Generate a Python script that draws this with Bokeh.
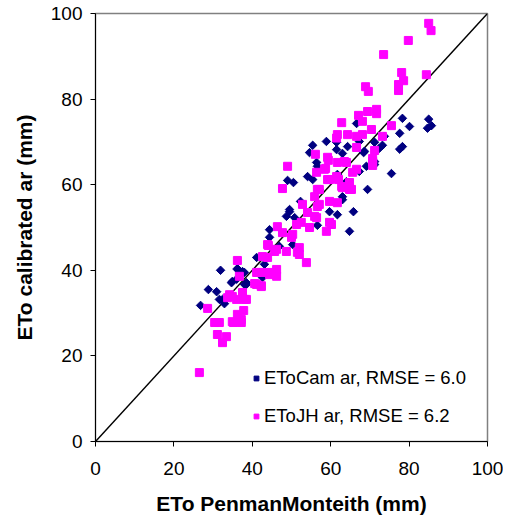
import math
from bokeh.plotting import figure
from bokeh.models import Legend, LegendItem, FixedTicker, Range1d
from bokeh.embed import file_html
from bokeh.resources import INLINE

# EToCam ar (navy diamonds)
cam_x = [85.0, 85.7, 84.7, 80.1, 78.3, 77.6, 78.3, 77.6, 66.6, 58.9,
         55.4, 54.6, 63.0, 61.5, 64.3, 71.2, 73.2, 73.7, 68.4, 72.4,
         67.3, 68.6, 71.2, 56.4, 55.4, 57.1, 61.7, 64.0, 67.3, 63.0,
         75.5, 69.4, 49.0, 50.5, 54.1, 56.6, 63.0, 52.3, 49.5, 48.7,
         59.7, 61.7, 65.8, 64.8, 56.6, 44.4, 44.4, 46.9, 50.3, 41.1,
         43.1, 31.9, 36.2, 37.5, 36.0, 38.0, 28.8, 30.9, 34.7, 42.6,
         61.5, 69.1, 71.2, 26.8, 31.6, 32.9, 38.5, 38.0, 38.5, 32.4,
         42.3, 50.8, 34.9, 36.2, 49.5]
cam_y = [75.3, 73.8, 73.2, 73.6, 75.5, 72.0, 68.9, 68.3, 74.3, 70.1,
         69.2, 67.5, 67.3, 69.9, 68.9, 69.9, 69.2, 71.3, 67.5, 68.5,
         70.1, 67.8, 65.4, 65.2, 61.2, 58.9, 62.4, 60.7, 63.1, 57.2,
         62.6, 58.9, 61.0, 60.5, 61.9, 64.3, 56.5, 56.1, 54.2, 52.6,
         53.7, 53.0, 53.7, 49.1, 50.5, 49.5, 47.7, 45.6, 46.0, 43.0,
         41.4, 40.0, 40.2, 39.7, 37.9, 36.7, 35.5, 35.0, 37.1, 38.3,
         68.2, 64.3, 64.7, 31.8, 33.2, 32.2, 36.7, 39.5, 37.1, 33.2,
         39.0, 52.3, 37.4, 40.4, 53.7]

# EToJH ar (magenta squares)
jh_x = [85.0, 85.6, 79.8, 73.5, 78.1, 78.6, 77.3, 77.3, 84.4, 68.9,
        69.6, 71.7, 71.7, 69.4, 67.1, 68.1, 62.8, 75.5, 70.4, 73.2,
        61.7, 64.3, 66.6, 68.1, 61.5, 66.6, 71.2, 56.1, 70.7, 49.0,
        47.7, 59.4, 61.7, 64.0, 70.7, 70.7, 66.6, 65.6, 58.7, 56.4,
        59.2, 61.5, 64.8, 63.0, 65.3, 57.1, 55.9, 59.7, 61.7, 52.8,
        56.6, 54.1, 56.4, 51.3, 54.6, 46.4, 50.3, 50.0, 60.2, 58.9,
        44.1, 48.7, 52.0, 52.0, 53.8, 42.6, 36.2, 41.1, 44.4, 46.2,
        42.3, 40.6, 36.7, 37.5, 34.2, 28.6, 30.4, 31.6, 31.1, 33.4,
        32.4, 26.5, 35.2, 37.2, 36.2, 37.8, 36.0, 38.5, 33.7, 42.3,
        34.9, 59.2, 63.5, 58.4, 59.7, 62.0, 56.6, 57.1, 55.9, 59.7,
        52.5, 47.7, 43.9, 45.7, 43.9, 46.2, 42.3, 62.8, 64.8, 38.0,
        41.1, 37.2, 34.9, 51.5, 46.2, 44.4]
jh_y = [97.7, 96.0, 93.7, 90.4, 86.2, 84.3, 83.4, 82.0, 85.7, 82.9,
        81.8, 77.6, 76.6, 77.1, 76.2, 74.8, 74.5, 73.8, 72.9, 71.3,
        71.7, 71.7, 71.3, 71.7, 70.9, 68.7, 68.0, 67.1, 66.1, 64.3,
        59.1, 65.7, 65.2, 65.2, 65.4, 64.5, 63.6, 62.9, 63.8, 62.9,
        61.2, 61.9, 60.5, 59.3, 58.9, 58.9, 57.2, 56.1, 55.8, 55.4,
        54.9, 53.5, 52.3, 50.7, 50.0, 50.2, 48.4, 47.7, 50.7, 49.1,
        45.8, 44.4, 45.3, 43.7, 41.8, 43.2, 42.3, 39.5, 39.5, 38.6,
        36.4, 36.9, 38.6, 34.8, 34.3, 31.1, 27.8, 27.8, 25.0, 24.5,
        23.1, 16.1, 27.8, 27.8, 29.7, 30.6, 33.2, 33.2, 33.6, 36.2,
        33.9, 66.4, 65.4, 63.6, 61.2, 61.2, 58.9, 55.4, 52.6, 51.2,
        51.2, 48.8, 46.0, 44.4, 43.0, 40.2, 39.5, 59.6, 58.9, 33.2,
        36.7, 28.5, 28.0, 44.2, 44.9, 39.0]

one_to_one = [0, 100]
ticks = [0, 20, 40, 60, 80, 100]
cam_label = "EToCam ar, RMSE = 6.0"
jh_label = "EToJH ar, RMSE = 6.2"
x_title = "ETo PenmanMonteith (mm)"
y_title = "ETo calibrated ar (mm)"

FONT = "Liberation Sans"

p = figure(frame_width=392, frame_height=428,
           x_range=Range1d(0, 100), y_range=Range1d(0, 100),
           output_backend="svg", toolbar_location=None,
           min_border_left=95, min_border_top=13, min_border_right=16,
           min_border_bottom=70)

p.xgrid.visible = False
p.ygrid.visible = False
p.outline_line_color = "#808080"
p.outline_line_width = 1.5
p.background_fill_color = "white"

for ax in (p.xaxis[0], p.yaxis[0]):
    ax.ticker = FixedTicker(ticks=ticks)
    ax.major_tick_out = 5
    ax.major_tick_in = 0
    ax.minor_tick_out = 0
    ax.minor_tick_in = 0
    ax.axis_line_color = "black"
    ax.major_tick_line_color = "black"
    ax.major_label_text_font = FONT
    ax.major_label_text_font_size = "19px"
    ax.major_label_text_color = "black"
    ax.axis_label_text_font = FONT
    ax.axis_label_text_font_size = "21px"
    ax.axis_label_text_font_style = "bold"
    ax.axis_label_text_color = "black"

p.xaxis.axis_label = x_title
p.yaxis.axis_label = y_title
p.xaxis.major_label_standoff = 15
p.yaxis.major_label_standoff = 8
p.xaxis.axis_label_standoff = 14
p.yaxis.axis_label_standoff = 12

p.line(one_to_one, one_to_one, line_color="black", line_width=1.5)

r1 = p.scatter(cam_x, cam_y, marker="square", angle=math.pi / 4, size=6,
               fill_color="#000080", line_color="#000080")
r2 = p.scatter(jh_x, jh_y, marker="square", size=8,
               fill_color="#FF00FF", line_color="#FF00FF")

legend = Legend(items=[LegendItem(label=cam_label, renderers=[r1]),
                       LegendItem(label=jh_label, renderers=[r2])],
                location=(150, 9), border_line_alpha=0,
                background_fill_alpha=0, label_text_font=FONT,
                label_text_color="black",
                label_text_font_size="18.5px", glyph_width=12, glyph_height=14,
                label_height=20, spacing=16, padding=5, margin=0,
                label_standoff=2)
p.add_layout(legend)

open("out.html", "w").write(file_html(p, INLINE))
